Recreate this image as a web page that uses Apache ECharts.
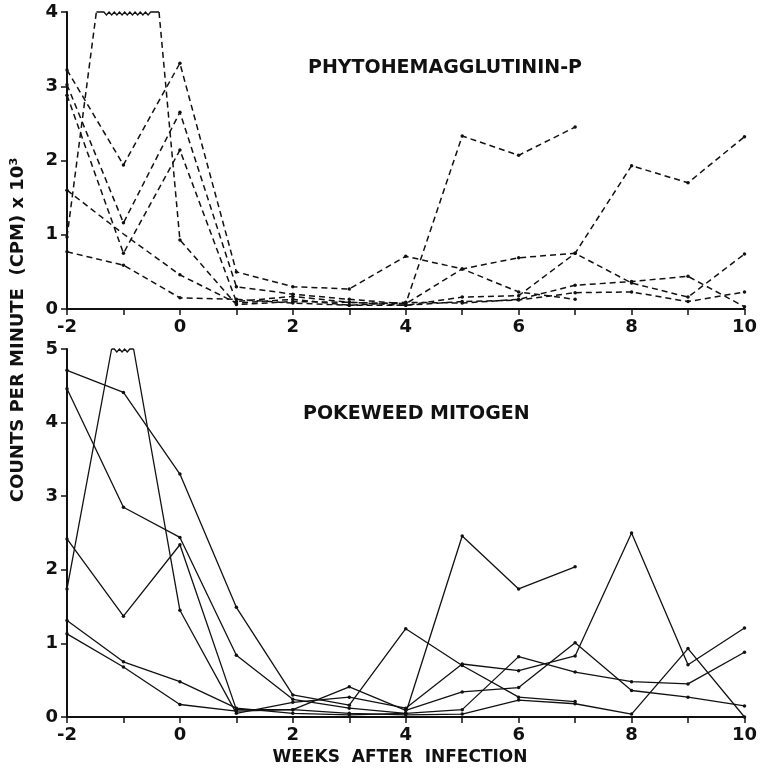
<!DOCTYPE html>
<html><head><meta charset="utf-8">
<script src="https://cdn.jsdelivr.net/npm/echarts@6/dist/echarts.min.js"></script>
<style>html,body{margin:0;background:#fff}#c{width:760px;height:771px}</style>
</head><body><div id="c"></div>
<script>
// ---------- data (x 10^3 CPM) ----------
const weeks = [-2, -1, 0, 1, 2, 3, 4, 5, 6, 7, 8, 9, 10];
const xTickLabels = ['-2', '0', '2', '4', '6', '8', '10'];
const phaTicks = [0, 1, 2, 3, 4];
const pwmTicks = [0, 1, 2, 3, 4, 5];

// Phytohemagglutinin-P (top panel, dashed)
const phaA = [0.97, null, 0.93, 0.06, 0.10, 0.09, 0.07, 2.33, 2.07, 2.45, null, null, null];
const phaAOff = [[-1.48, 4], [-0.37, 4]];      // off-scale trace meets top of scale
const phaB = [3.22, 1.94, 3.31, 0.50, 0.30, 0.27, 0.71, 0.54, 0.69, 0.75, 0.35, 0.16, 0.74];
const phaC = [3.02, 1.16, 2.65, 0.30, 0.20, 0.13, 0.07, 0.54, 0.23, 0.13, null, null, null];
const phaD = [2.88, 0.75, 2.14, 0.10, 0.17, 0.09, 0.05, 0.16, 0.18, 0.75, 1.93, 1.70, 2.32];
const phaE = [1.60, 1.01, 0.46, 0.08, 0.13, 0.05, 0.09, 0.08, 0.13, 0.32, 0.37, 0.44, 0.03];
const phaF = [0.77, 0.59, 0.15, 0.13, 0.08, 0.05, 0.05, 0.10, 0.12, 0.22, 0.23, 0.10, 0.23];

// Pokeweed mitogen (bottom panel, solid)
const pwmA = [4.71, 4.41, 3.30, 1.49, 0.30, 0.16, 1.20, 0.70, 0.27, 0.21, null, null, null];
const pwmB = [4.46, 2.85, 2.44, 0.84, 0.24, 0.12, 0.05, 2.46, 1.74, 2.04, null, null, null];
const pwmC = [2.42, 1.37, 2.34, 0.10, 0.10, 0.41, 0.09, 0.34, 0.40, 1.01, 0.36, 0.27, 0.15];
const pwmD = [1.74, null, 1.45, 0.05, 0.20, 0.27, 0.12, 0.72, 0.63, 0.83, 2.50, 0.71, 1.21];
const pwmDOff = [[-1.21, 5], [-0.82, 5]];       // off-scale trace meets top of scale
const pwmE = [1.31, 0.75, 0.48, 0.12, 0.05, 0.03, 0.05, 0.10, 0.82, 0.61, 0.48, 0.45, 0.88];
const pwmF = [1.13, 0.68, 0.17, 0.08, 0.10, 0.05, 0.03, 0.04, 0.23, 0.18, 0.04, 0.93, 0.00];

// ---------- build ----------
function pts(vals, off, noDot) {
  const d = [];
  weeks.forEach((w, i) => {
    if (vals[i] == null) return;
    const p = { value: [w, vals[i]] };
    if (noDot && noDot.indexOf(w) >= 0) p.symbol = 'none';
    d.push(p);
  });
  d.sort((a, b) => a.value[0] - b.value[0]);
  if (off) {
    // insert: off-scale start, gap (break drawn separately), off-scale end
    const idx = d.findIndex(p => p.value[0] > off[0][0]);
    d.splice(idx, 0,
      { value: off[0], symbol: 'none' },
      { value: [(off[0][0] + off[1][0]) / 2, '-'], symbol: 'none' },
      { value: off[1], symbol: 'none' });
  }
  return d;
}
const FONT = 'DejaVu Sans';
const INK = '#111';
function line(data, gi, dashed) {
  return {
    type: 'line', xAxisIndex: gi, yAxisIndex: gi, data: data,
    symbol: 'circle', symbolSize: 3.5, clip: false, animation: false, connectNulls: false,
    itemStyle: { color: INK },
    lineStyle: { color: INK, width: dashed ? 1.5 : 1.3, type: dashed ? [6, 4] : 'solid' },
    z: 3
  };
}
// zig-zag "break" drawn along the top of the scale between the two off-scale points
function breakMark(off, gi) {
  return {
    type: 'custom', xAxisIndex: gi, yAxisIndex: gi, clip: false, z: 3,
    data: [[off[0][0], off[1][0], off[0][1]]],
    renderItem: (params, api) => {
      const a = api.coord([api.value(0), api.value(2)]);
      const b = api.coord([api.value(1), api.value(2)]);
      const len = b[0] - a[0], flat = len * 0.12;
      const p = [a, [a[0] + flat, a[1]]];
      let x = a[0] + flat, down = true;
      while (x + 2.6 <= b[0] - flat) { x += 2.6; p.push([x, a[1] + (down ? 3 : 0)]); down = !down; }
      p.push([b[0] - flat, a[1]], b);
      return { type: 'polyline', shape: { points: p }, style: { stroke: INK, lineWidth: 1.3, fill: null } };
    }
  };
}
function xAx(gi) {
  return {
    type: 'value', gridIndex: gi, min: -2, max: 10, interval: 1,
    axisLine: { show: true, onZero: false, lineStyle: { color: INK, width: 2 } },
    axisTick: { show: true, length: 6, lineStyle: { color: INK, width: 1.5 } },
    splitLine: { show: false },
    axisLabel: {
      margin: 9, color: INK, fontFamily: FONT, fontWeight: 'bold', fontSize: 18,
      formatter: v => { const s = String(v); return xTickLabels.indexOf(s) >= 0 ? s : ''; }
    }
  };
}
function yAx(gi, ticks) {
  return {
    type: 'value', gridIndex: gi, min: ticks[0], max: ticks[ticks.length - 1], interval: 1,
    axisLine: { show: true, onZero: false, lineStyle: { color: INK, width: 2 } },
    axisTick: { show: true, length: 6, lineStyle: { color: INK, width: 1.5 } },
    splitLine: { show: false },
    axisLabel: { margin: 9, color: INK, fontFamily: FONT, fontWeight: 'bold', fontSize: 18 }
  };
}
const titleStyle = { fontFamily: FONT, fontWeight: 'bold', fontSize: 19, color: INK };

const option = {
  backgroundColor: '#fff',
  animation: false,
  title: [
    { text: 'PHYTOHEMAGGLUTININ-P', left: 308, top: 59, padding: 0, textStyle: titleStyle },
    { text: 'POKEWEED MITOGEN', left: 303, top: 405, padding: 0, textStyle: titleStyle }
  ],
  grid: [
    { left: 67, right: 8, top: 12, height: 297 },
    { left: 67, right: 9, top: 349, height: 368 }
  ],
  xAxis: [xAx(0), xAx(1)],
  yAxis: [yAx(0, phaTicks), yAx(1, pwmTicks)],
  graphic: [
    { type: 'text', x: 400, y: 758, style: { text: 'WEEKS  AFTER  INFECTION', font: 'bold 17px "DejaVu Sans"', fill: INK, align: 'center', verticalAlign: 'middle' } },
    { type: 'text', x: 18, y: 330, rotation: Math.PI / 2, style: { text: 'COUNTS PER MINUTE  (CPM) x 10³', font: 'bold 18px "DejaVu Sans"', fill: INK, align: 'center', verticalAlign: 'middle' } }
  ],
  series: [
    line(pts(phaA, phaAOff), 0, true),
    breakMark(phaAOff, 0),
    line(pts(phaB), 0, true),
    line(pts(phaC), 0, true),
    line(pts(phaD), 0, true),
    line(pts(phaE, null, [-1]), 0, true),
    line(pts(phaF), 0, true),
    line(pts(pwmA), 1, false),
    line(pts(pwmB), 1, false),
    line(pts(pwmC), 1, false),
    line(pts(pwmD, pwmDOff), 1, false),
    breakMark(pwmDOff, 1),
    line(pts(pwmE), 1, false),
    line(pts(pwmF), 1, false)
  ]
};
const chart = echarts.init(document.getElementById('c'), null, { renderer: 'canvas' });
chart.setOption(option);
</script></body></html>
